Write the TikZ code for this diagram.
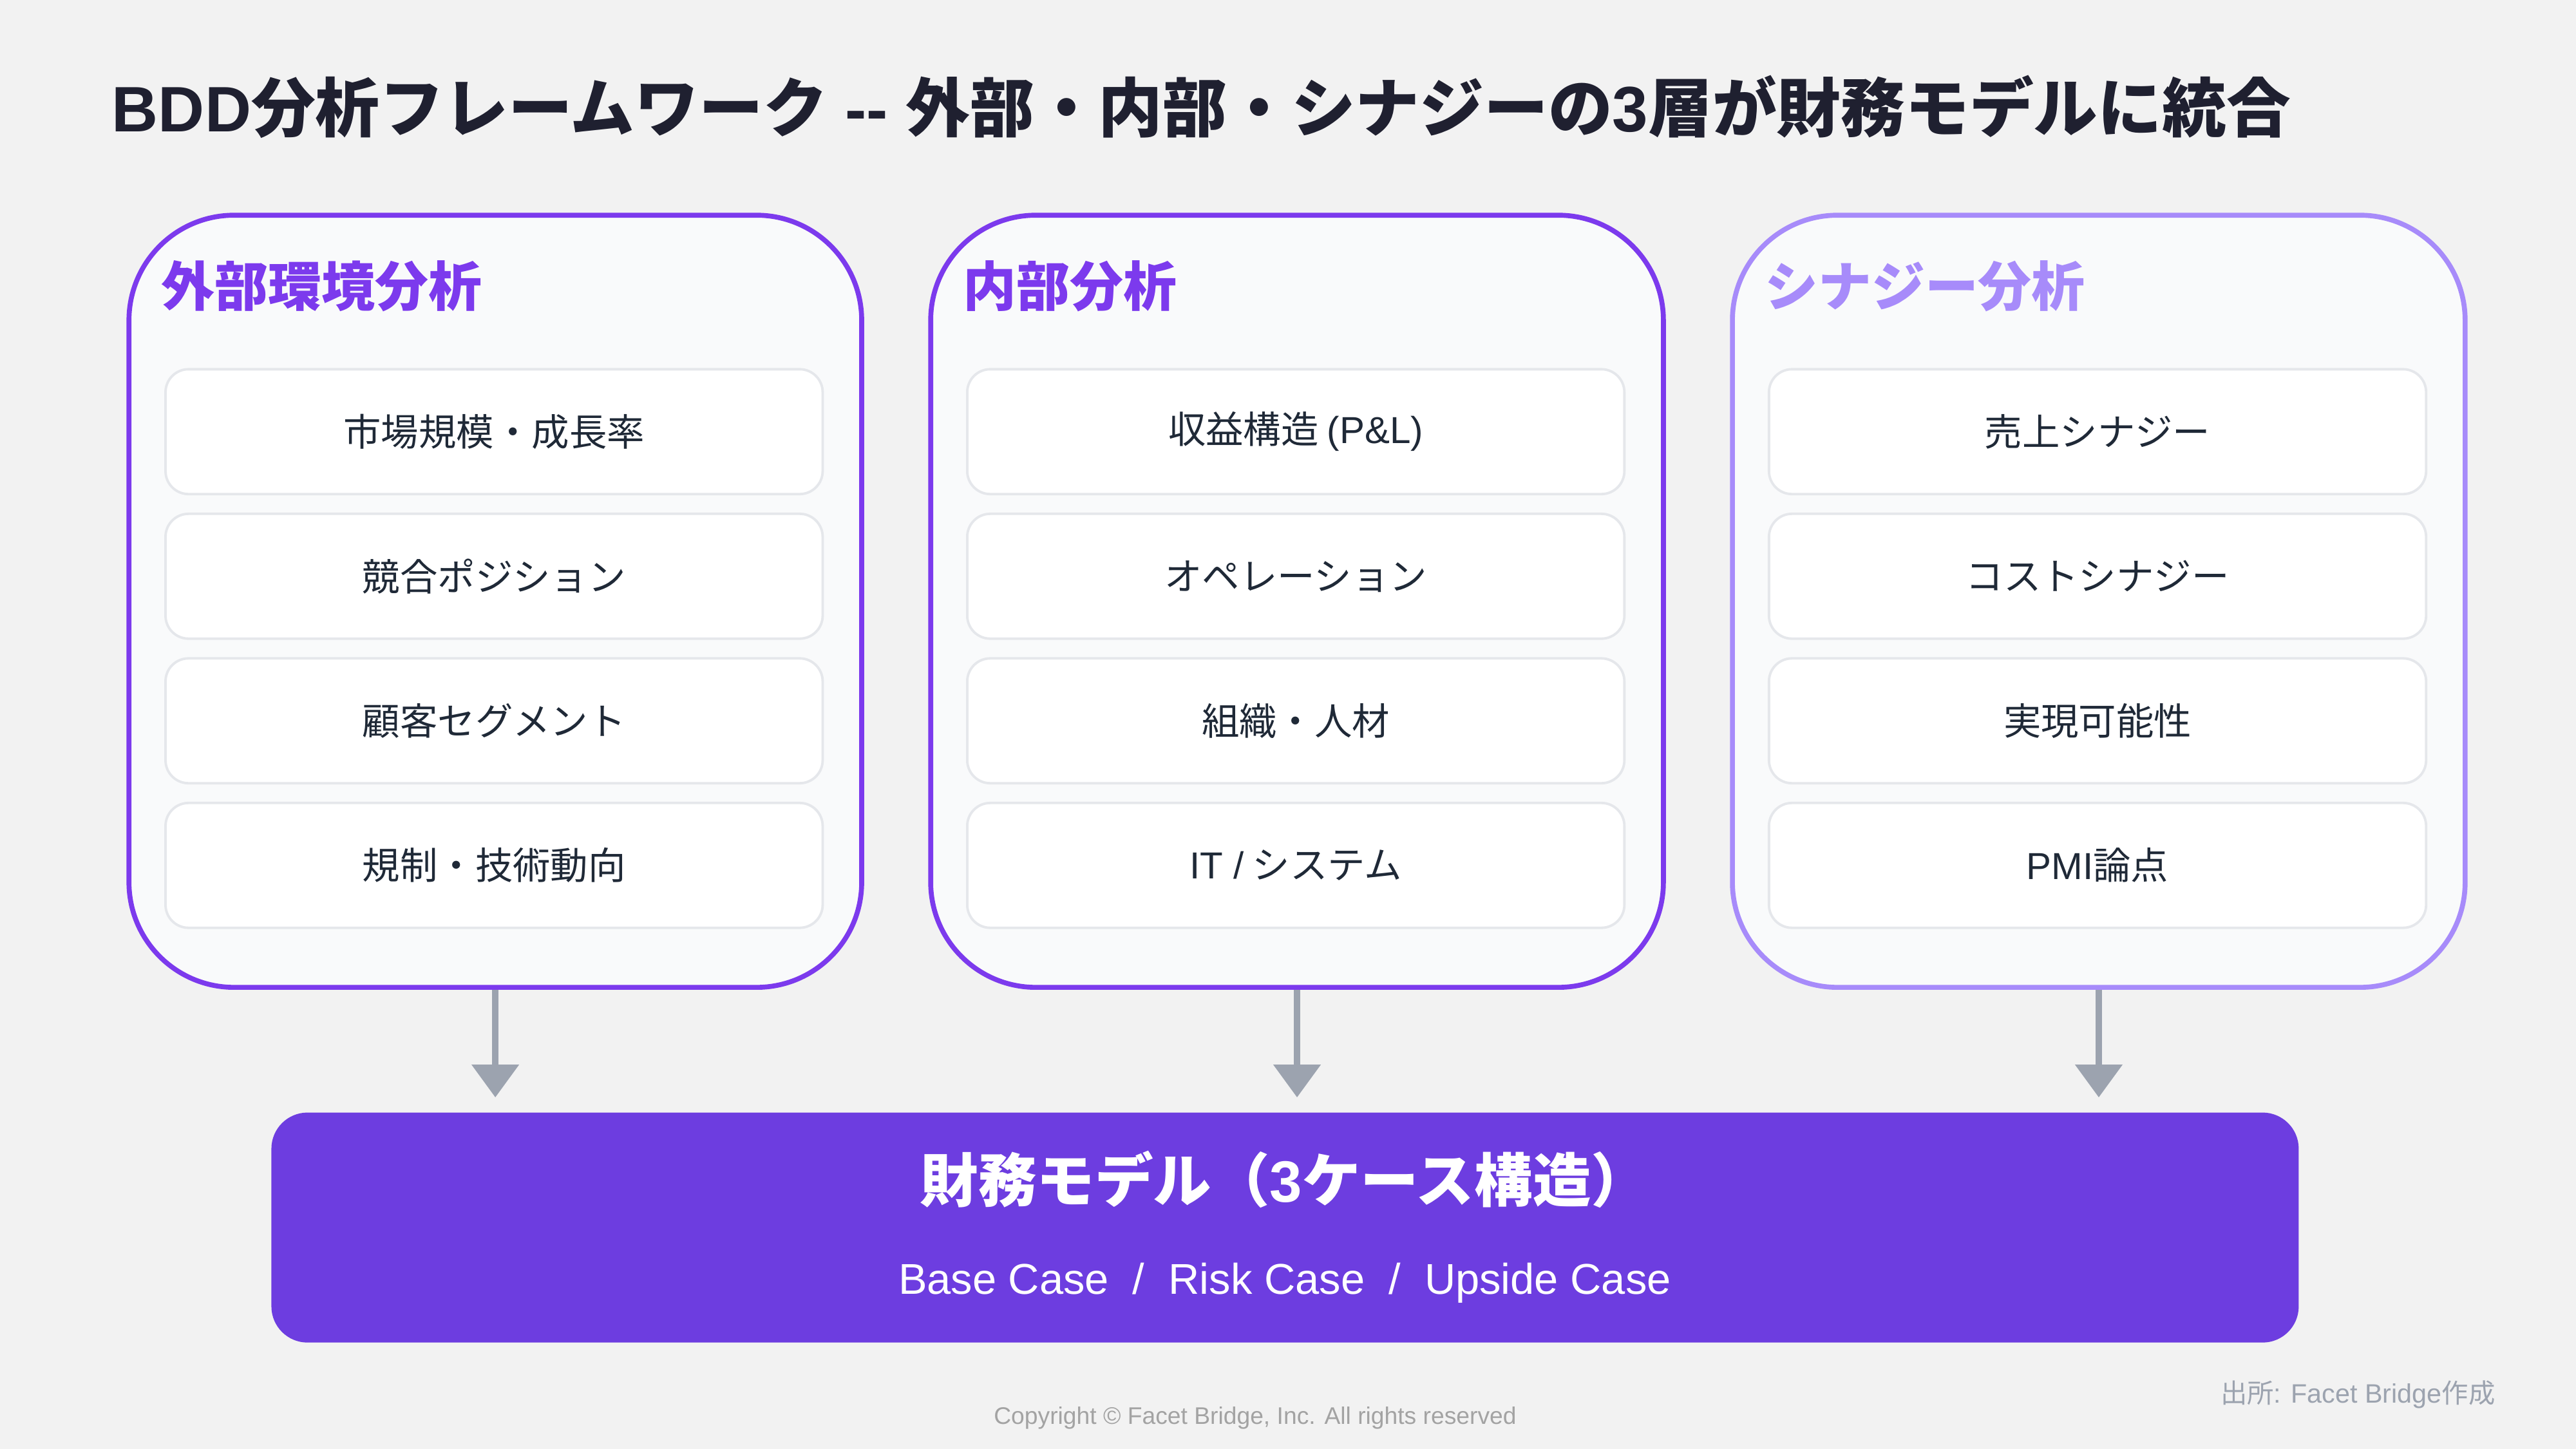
\documentclass[tikz,border=0pt]{standalone}
\usepackage{fontspec}
\setmainfont{Noto Sans CJK JP}
\newfontfamily\jp{Noto Sans CJK JP}
\newfontfamily\la{Liberation Sans}
\usetikzlibrary{arrows.meta}
\definecolor{bg}{HTML}{F2F2F2}
\definecolor{ink}{HTML}{1F2030}
\definecolor{itemink}{HTML}{1F2937}
\definecolor{pdark}{HTML}{7C3AED}
\definecolor{plight}{HTML}{A78BFA}
\definecolor{panelfill}{HTML}{F9FAFB}
\definecolor{itemline}{HTML}{E5E7EB}
\definecolor{arrowc}{HTML}{9CA3AF}
\definecolor{fmfill}{HTML}{6D3DE0}
\definecolor{foot}{HTML}{A3A3A3}
\begin{document}
\begin{tikzpicture}[x=1pt,y=-1pt,
  panel/.style={draw=#1, line width=3pt, fill=panelfill, rounded corners=64pt,
     minimum width=446pt, minimum height=470pt, anchor=north west, inner sep=0pt},
  phead/.style={anchor=west, inner sep=0pt, text=#1, font=\jp\bfseries\fontsize{32.5}{32.5}\selectfont},
  item/.style={draw=itemline, line width=1.5pt, fill=white, rounded corners=14pt,
     minimum width=400pt, minimum height=76pt, anchor=north west, inner sep=0pt,
     text=itemink, font=\jp\fontsize{22.9}{22.9}\selectfont},
  arr/.style={draw=arrowc, line width=4pt, -{Triangle[width=28pt,length=20pt]}, shorten >=9pt}
]
\fill[bg] (0,0) rectangle (1568,882);
\useasboundingbox (0,0) rectangle (1568,882);

% title
\node[anchor=west, inner sep=0pt, text=ink, font=\jp\bfseries\fontsize{39.1}{39.1}\selectfont] (title) at (68,65)
  {{\la\bfseries BDD}分析フレームワーク{\la\bfseries\ -- }外部・内部・シナジーの{\la\bfseries 3}層が財務モデルに統合};

% panels
\node[panel=pdark] (p1) at (77,129.5) {};
\node[panel=pdark] (p2) at (565,129.5) {};
\node[panel=plight] (p3) at (1053,129.5) {};

\node[phead=pdark] (h1) at (98,174) {外部環境分析};
\node[phead=pdark] (h2) at (586,174) {内部分析};
\node[phead=plight] (h3) at (1074,174) {シナジー分析};

% items panel 1
\node[item] (a1) at (100,224) {市場規模・成長率};
\node[item] (a2) at (100,312) {競合ポジション};
\node[item] (a3) at (100,400) {顧客セグメント};
\node[item] (a4) at (100,488) {規制・技術動向};
% items panel 2
\node[item] (b1) at (588,224) {収益構造 {\la (P\&L)}};
\node[item] (b2) at (588,312) {オペレーション};
\node[item] (b3) at (588,400) {組織・人材};
\node[item] (b4) at (588,488) {{\la IT /} システム};
% items panel 3
\node[item] (c1) at (1076,224) {売上シナジー};
\node[item] (c2) at (1076,312) {コストシナジー};
\node[item] (c3) at (1076,400) {実現可能性};
\node[item] (c4) at (1076,488) {{\la PMI}論点};

% financial model box
\node[fill=fmfill, rounded corners=22pt, minimum width=1234pt, minimum height=140pt,
      anchor=north west, inner sep=0pt] (fm) at (165,677) {};
\node[text=white, inner sep=0pt, font=\jp\bfseries\fontsize{35.5}{35.5}\selectfont] (fmt) at (782,718)
  {財務モデル（{\la\bfseries 3}ケース構造）};
\node[text=white, inner sep=0pt, font=\la\fontsize{26.2}{26.2}\selectfont] (fms) at (782,781)
  {Base Case~~/~~Risk Case~~/~~Upside Case};

% arrows
\draw[arr] (p1.south) -- (p1.south |- fm.north);
\draw[arr] (p2.south) -- (p2.south |- fm.north);
\draw[arr] (p3.south) -- (p3.south |- fm.north);

% footer
\node[text=foot, inner sep=0pt, font=\la\fontsize{14.6}{14.6}\selectfont] (copy) at (764,863)
  {Copyright © Facet Bridge, Inc. All rights reserved};
\node[anchor=east, text=arrowc, inner sep=0pt, font=\jp\fontsize{16.2}{16.2}\selectfont] (src) at (1519,849)
  {出所{\la : Facet Bridge}作成};
\end{tikzpicture}
\end{document}
